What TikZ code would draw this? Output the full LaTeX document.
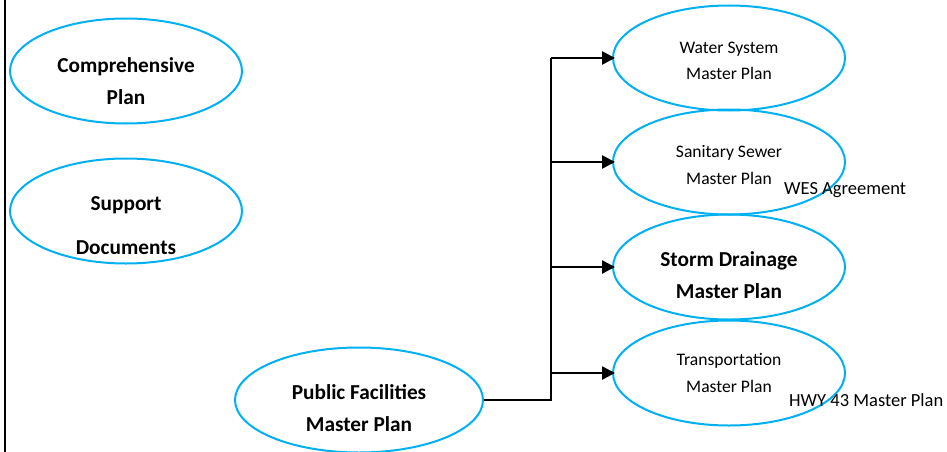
\documentclass[tikz,border=0pt]{standalone}
\usepackage{fontspec}
\setmainfont{Carlito}
\usetikzlibrary{shapes.geometric,arrows.meta}
\definecolor{ebl}{RGB}{0,176,240}
\begin{document}
\begin{tikzpicture}[x=1pt,y=-1pt,
  oval/.style={ellipse,draw=ebl,line width=2pt,minimum width=232pt,minimum height=105pt,inner sep=0pt},
  boldtxt/.style={align=center,font=\bfseries\fontsize{21.3}{32}\selectfont,inner sep=0pt},
  regtxt/.style={align=center,font=\fontsize{17.6}{26.5}\selectfont,inner sep=0pt},
  sidetxt/.style={anchor=west,font=\fontsize{18.5}{22}\selectfont,inner sep=0pt},
  conn/.style={line width=2.6pt,black},
  arr/.style={line width=2.6pt,black,shorten >=-3pt,-{Triangle[length=13pt,width=13pt]}}]
\useasboundingbox (0,0) rectangle (947,452);
\coordinate (lt) at (5,0);
\coordinate (lb) at (5,452);
\draw[line width=2.2pt] (lt) -- (lb);

\node[oval] (cp) at (126,71) {};
\node[boldtxt] (cpt) at (126,81) {Comprehensive\\Plan};
\node[oval] (sd) at (126,211) {};
\node[boldtxt,font=\bfseries\fontsize{21.3}{44}\selectfont] (sdt) at (126,226) {Support\\Documents};
\node[oval,minimum width=248pt] (pf) at (359,400) {};
\node[boldtxt] (pft) at (359,408) {Public Facilities\\Master Plan};

\node[oval] (ws) at (729,58) {};
\node[regtxt] (wst) at (729,61) {Water System\\Master Plan};
\node[oval] (ss) at (729,162) {};
\node[regtxt] (sst) at (729,165) {Sanitary Sewer\\Master Plan};
\node[oval] (st) at (729,267) {};
\node[boldtxt] (stt) at (729,275) {Storm Drainage\\Master Plan};
\node[oval] (tp) at (729,373) {};
\node[regtxt] (tpt) at (729,373) {Transportation\\Master Plan};

\node[sidetxt] (wes) at (784,190) {WES Agreement};
\node[sidetxt] (hwy) at (789,400) {HWY 43 Master Plan};

\coordinate (jt) at (551,58);
\draw[conn] (pf.east) -| (jt);
\draw[arr] (jt |- ws.west) -- (ws.west);
\draw[arr] (jt |- ss.west) -- (ss.west);
\draw[arr] (jt |- st.west) -- (st.west);
\draw[arr] (jt |- tp.west) -- (tp.west);
\end{tikzpicture}
\end{document}
